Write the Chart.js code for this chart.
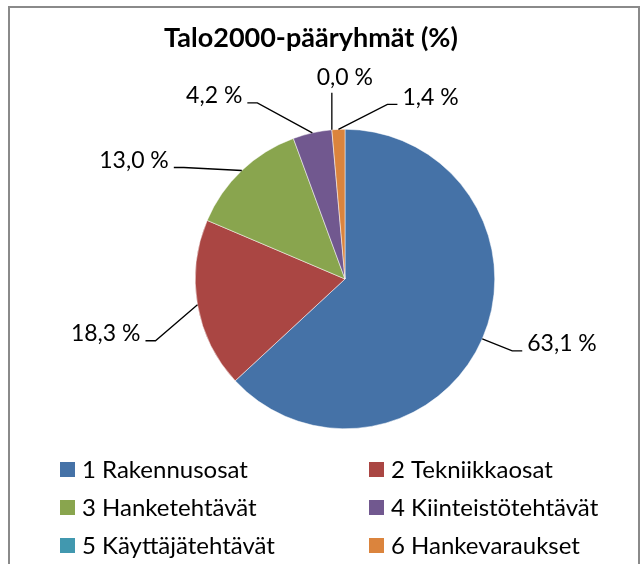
<!DOCTYPE html>
<html>
<head>
<meta charset="utf-8">
<script src="https://cdn.jsdelivr.net/npm/chart.js@4.4.1/dist/chart.umd.min.js"></script>
<style>
  body { margin: 0; background: #fff; }
  #wrap { width: 644px; height: 564px; position: relative; }
</style>
</head>
<body>
<div id="wrap"><canvas id="pie-chart"></canvas></div>
<script>
const chartTitle = 'Talo2000-pääryhmät (%)';
const categories = ['1 Rakennusosat', '2 Tekniikkaosat', '3 Hanketehtävät',
  '4 Kiinteistötehtävät', '5 Käyttäjätehtävät', '6 Hankevaraukset'];
const shares = [63.1, 18.3, 13.0, 4.2, 0.0, 1.4];
const sliceColors = ['#4572A7', '#AA4643', '#89A54E', '#71588F', '#4198AF', '#DB843D'];

// where each leader line ends, relative to the slice's outer edge point
const leaderEnds = [[40, 12], [-52, 36], [-68, -3], [-65, -30], [0, -37], [59, -25]];

const FONT = 'Lato, "Open Sans", sans-serif';

function fmt(v) {
  return v.toFixed(1).replace('.', ',') + ' %';
}

// frame, title, data labels and the two-column legend
const decorations = {
  id: 'decorations',
  afterDraw(chart) {
    const ctx = chart.ctx;
    ctx.save();

    ctx.strokeStyle = '#8a8a8a';
    ctx.lineWidth = 2;
    ctx.strokeRect(9, 7, 630, 620);

    ctx.fillStyle = '#000';
    ctx.font = 'bold 27px ' + FONT;
    ctx.textAlign = 'center';
    ctx.textBaseline = 'middle';
    ctx.fillText(chartTitle, 311, 38);

    // labels with leader lines
    const arcs = chart.getDatasetMeta(0).data;
    ctx.font = '23px ' + FONT;
    ctx.strokeStyle = '#000';
    ctx.lineWidth = 1.3;
    arcs.forEach((arc, i) => {
      const p = arc.getProps(['x', 'y', 'startAngle', 'endAngle', 'outerRadius'], true);
      const mid = (p.startAngle + p.endAngle) / 2;
      const ex = p.x + p.outerRadius * Math.cos(mid);
      const ey = p.y + p.outerRadius * Math.sin(mid);
      const tx = ex + leaderEnds[i][0];
      const ty = ey + leaderEnds[i][1];
      ctx.beginPath();
      ctx.moveTo(ex, ey);
      if (Math.abs(leaderEnds[i][0]) < 3) {
        ctx.lineTo(tx, ty);
        ctx.stroke();
        ctx.textAlign = 'center';
        ctx.fillText(fmt(shares[i]), tx + 13, ty - 15);
        return;
      }
      const side = leaderEnds[i][0] > 0 ? 1 : -1;
      ctx.lineTo(tx - side * 10, ty);
      ctx.lineTo(tx, ty);
      ctx.stroke();
      ctx.textAlign = side > 0 ? 'left' : 'right';
      ctx.fillText(fmt(shares[i]), tx + side * 5, ty - 7);
    });

    // legend
    ctx.font = '24px ' + FONT;
    ctx.textAlign = 'left';
    const colX = [60, 369];
    const rowY = [469, 507, 545];
    categories.forEach((name, i) => {
      const x = colX[i % 2];
      const y = rowY[Math.floor(i / 2)];
      ctx.fillStyle = sliceColors[i];
      ctx.fillRect(x, y - 7, 15, 15);
      ctx.fillStyle = '#000';
      ctx.fillText(name, x + 22, y + 1);
    });

    ctx.restore();
  }
};

const ctx = document.getElementById('pie-chart').getContext('2d');
const mychart = new Chart(ctx, {
  type: 'pie',
  data: {
    labels: categories,
    datasets: [{
      data: shares,
      backgroundColor: sliceColors,
      borderColor: '#ffffff',
      borderWidth: 0.5
    }]
  },
  options: {
    responsive: true,
    maintainAspectRatio: false,
    animation: false,
    layout: {
      padding: { left: 195, right: 149, top: 129, bottom: 135 }
    },
    plugins: {
      legend: { display: false },
      title: { display: false },
      tooltip: { enabled: false }
    }
  },
  plugins: [decorations]
});
</script>
</body>
</html>
